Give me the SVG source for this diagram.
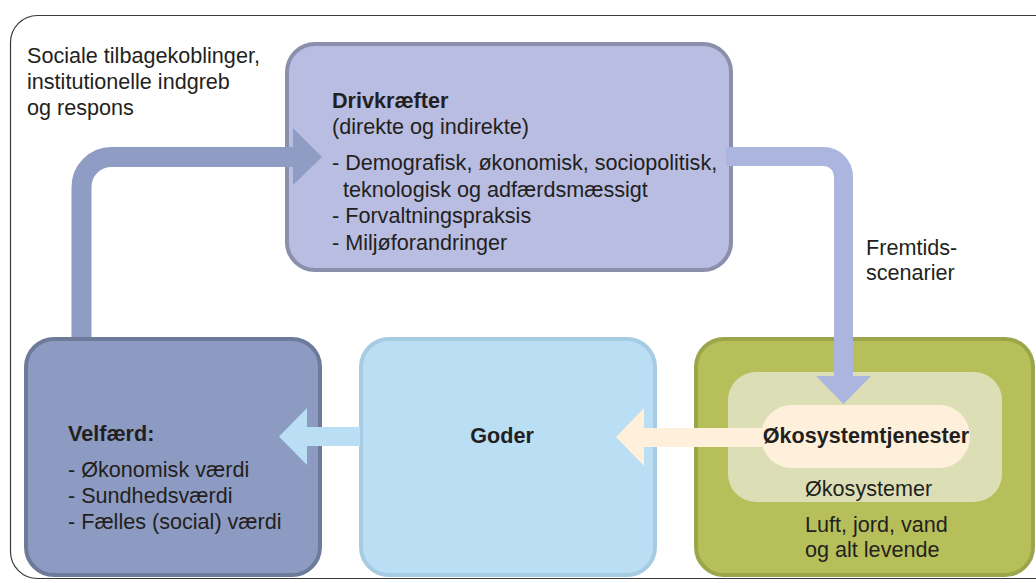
<svg xmlns="http://www.w3.org/2000/svg" width="1036" height="583" viewBox="0 0 1036 583">
<style>
text{font-family:"Liberation Sans",Arial,sans-serif;font-size:21.6px;fill:#231f20}
.b{font-weight:bold}
.box{stroke-width:4}
</style>
<rect width="1036" height="583" fill="#ffffff"/>
<rect x="10.5" y="15.5" width="1060" height="563" rx="27" fill="none" stroke="#3a3a3a" stroke-width="1.2"/>
<text x="27" y="63">Sociale tilbagekoblinger,</text>
<text x="27" y="89">institutionelle indgreb</text>
<text x="27" y="115">og respons</text>

<g id="drivkraefter">
<rect class="box" x="287" y="44" width="444" height="226" rx="28" fill="#b9bde1" stroke="#8a8fab"/>
<text class="b" x="332" y="108">Drivkræfter</text>
<text x="332" y="134">(direkte og indirekte)</text>
<text x="332" y="170">- Demografisk, økonomisk, sociopolitisk,</text>
<text x="343" y="197">teknologisk og adfærdsmæssigt</text>
<text x="332" y="223">- Forvaltningspraksis</text>
<text x="332" y="250">- Miljøforandringer</text>
</g>

<g id="velfaerd">
<rect class="box" x="26" y="339" width="294" height="236" rx="28" fill="#8d9bc2" stroke="#6e7a99"/>
<text class="b" x="68" y="441">Velfærd:</text>
<text x="68" y="477">- Økonomisk værdi</text>
<text x="68" y="503">- Sundhedsværdi</text>
<text x="68" y="529">- Fælles (social) værdi</text>
</g>

<g id="goder">
<rect class="box" x="361" y="339" width="294" height="236" rx="28" fill="#badef4" stroke="#a5cce3"/>
<text class="b" x="502" y="443" text-anchor="middle">Goder</text>
</g>

<g id="oekosystemer">
<rect class="box" x="696" y="339" width="337" height="236" rx="28" fill="#b7bf5b" stroke="#9ba64a"/>
<rect x="728" y="372" width="274" height="130" rx="28" fill="#dcdfb6"/>
<text x="805" y="496">Økosystemer</text>
<text x="805" y="532">Luft, jord, vand</text>
<text x="805" y="557">og alt levende</text>
</g>

<g id="connectors">
<path d="M81.5,337 V187 A30,30 0 0 1 111.5,157 H295" fill="none" stroke="#8f9cc3" stroke-width="20"/>
<polygon points="293,128 322,157 293,185" fill="#8f9cc3"/>
<path d="M726,156.5 H823.5 A20,20 0 0 1 843.5,176.5 V378" fill="none" stroke="#abb5dd" stroke-width="19"/>
<polygon points="816,376 871,376 843.5,404" fill="#abb5dd"/>
<path d="M360,427 H307 V408 L279,436.5 L307,465 V446 H360 Z" fill="#badef4"/>
<path d="M762,428 H644 V408 L616,437 L644,466 V447 H762 Z" fill="#fef0da"/>
<text x="866" y="255">Fremtids-</text>
<text x="866" y="280">scenarier</text>
</g>

<g id="oekosystemtjenester">
<rect x="761" y="405" width="209" height="63" rx="31" fill="#fef0da"/>
<text class="b" x="866" y="443" text-anchor="middle">Økosystemtjenester</text>
</g>
</svg>
